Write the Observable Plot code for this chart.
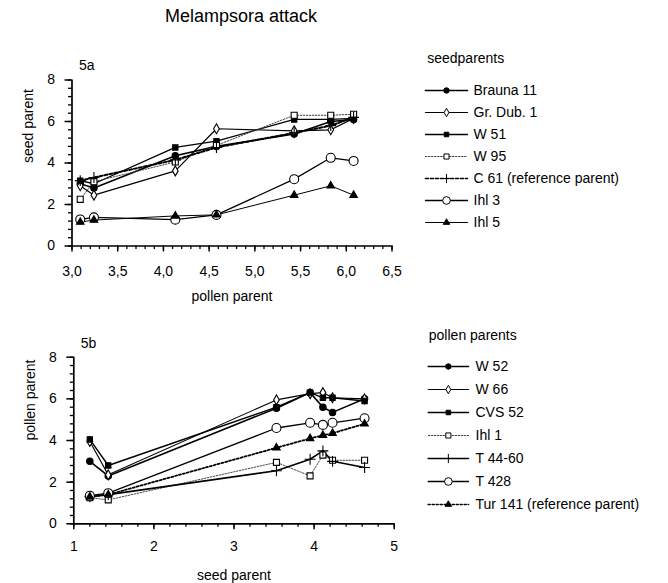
<!DOCTYPE html>
<html><head><meta charset="utf-8">
<script src="https://cdn.jsdelivr.net/npm/d3@7"></script>
<script src="https://cdn.jsdelivr.net/npm/@observablehq/plot@0.6"></script>
<style>
body{margin:0;background:#fff;font-family:"Liberation Sans",Arial,sans-serif;}
#wrap{position:relative;width:668px;height:583px;overflow:hidden;}
#title{position:absolute;left:0;width:482px;top:6px;line-height:20px;text-align:center;font-size:18px;color:#000;}
.abs{position:absolute;}
</style></head><body>
<div id="wrap"><div id="title">Melampsora attack</div></div>
<script>
// ---------- 5a: seed parents vs pollen parent score ----------
const pollenParentX = [3.09, 3.24, 4.13, 4.58, 5.43, 5.83, 6.08];
const seedParentNames = ["Brauna 11", "Gr. Dub. 1", "W 51", "W 95", "C 61 (reference parent)", "Ihl 3", "Ihl 5"];
const brauna11 = [3.0, 2.8, 4.35, 4.8, 5.4, 6.0, 6.1];
const grDub1   = [2.9, 2.45, 3.62, 5.65, 5.55, 5.6, 6.15];
const w51      = [3.15, 3.0, 4.75, 5.05, 6.1, 6.1, 6.15];
const w95      = [2.25, 3.1, 4.05, 4.85, 6.3, 6.3, 6.35];
const c61      = [3.15, 3.3, 4.15, 4.75, 5.45, 5.8, 6.2];
const ihl3     = [1.28, 1.38, 1.27, 1.5, 3.22, 4.25, 4.1];
const ihl5     = [1.15, 1.25, 1.45, 1.5, 2.45, 2.9, 2.45];
const seedParentSeries = [brauna11, grDub1, w51, w95, c61, ihl3, ihl5];

// ---------- 5b: pollen parents vs seed parent score ----------
const seedParentX = [1.2, 1.43, 3.53, 3.95, 4.11, 4.23, 4.63];
const pollenParentNames = ["W 52", "W 66", "CVS 52", "Ihl 1", "T 44-60", "T 428", "Tur 141 (reference parent)"];
const w52    = [3.0, 2.3, 5.55, 6.3, 5.6, 5.35, 6.0];
const w66    = [3.95, 2.35, 5.95, 6.25, 6.3, 6.05, 6.0];
const cvs52  = [4.05, 2.8, 5.6, 6.3, 6.05, 6.05, 5.9];
const ihl1   = [1.25, 1.15, 2.95, 2.3, 3.3, 3.05, 3.05];
const t4460  = [1.3, 1.4, 2.55, 3.1, 3.5, 3.0, 2.7];
const t428   = [1.35, 1.47, 4.6, 4.85, 4.75, 4.85, 5.07];
const tur141 = [1.3, 1.4, 3.65, 4.1, 4.25, 4.35, 4.8];
const pollenParentSeries = [w52, w66, cvs52, ihl1, t4460, t428, tur141];

// tick values
const yMajorTicks = [0, 2, 4, 6, 8];
const yMinorTicks = d3.range(0, 8.01, 0.4);
const topXMajor = [3, 3.5, 4, 4.5, 5, 5.5, 6, 6.5];
const topXMinor = d3.range(3, 6.51, 0.1).map(v => +v.toFixed(2));
const botXMajor = [1, 2, 3, 4, 5];
const botXMinor = d3.range(1, 5.01, 0.2).map(v => +v.toFixed(2));

const topStyles = [
  {symbol: "circle", fill: "black", r: 3.2, sw: 1.6},
  {symbol: "diamond", fill: "white", r: 3.0, sw: 1.2},
  {symbol: "square", fill: "black", r: 3.0, sw: 1.3},
  {symbol: "square", fill: "white", r: 3.4, sw: 1, dash: "1.5,1.5", stroke: "#444"},
  {symbol: "plus", fill: "none", r: 3.6, sw: 2, dash: "3,2"},
  {symbol: "circle", fill: "white", r: 4.5, sw: 1.3},
  {symbol: "triangle", fill: "black", r: 2.8, sw: 1}
];
const botStyles = [
  {symbol: "circle", fill: "black", r: 3.2, sw: 1.6},
  {symbol: "diamond", fill: "white", r: 3.0, sw: 1.1},
  {symbol: "square", fill: "black", r: 3.0, sw: 1.4},
  {symbol: "square", fill: "white", r: 3.4, sw: 1, dash: "1.5,1.5", stroke: "#444"},
  {symbol: "plus", fill: "none", r: 3.6, sw: 1.6},
  {symbol: "circle", fill: "white", r: 4.5, sw: 1.3},
  {symbol: "triangle", fill: "black", r: 2.8, sw: 1.8, dash: "2,2"}
];

const FONT = "'Liberation Sans', Arial, sans-serif";

function panel(o) {
  const rows = o.series.flatMap((vals, i) => vals.map((v, j) => ({x: o.xs[j], y: v, s: i})));
  const marks = [
    Plot.axisY(yMinorTicks, {tickSize: 3.5, tickFormat: () => "", label: null, strokeWidth: 1.3}),
    Plot.axisY(yMajorTicks, {tickSize: 7, tickPadding: 10, fontSize: 14, label: null, strokeWidth: 1.5}),
    Plot.axisX(o.xMinor, {tickSize: 3.5, tickFormat: () => "", label: null, strokeWidth: 1.3}),
    Plot.axisX(o.xMajor, {tickSize: 6, tickPadding: o.xPad, fontSize: 14, label: null, tickFormat: o.fmt, strokeWidth: 1.5}),
    Plot.ruleX([o.xDomain[0]], {y1: 0, y2: 8, strokeWidth: 1.7}),
    Plot.ruleY([0], {x1: o.xDomain[0], x2: o.xDomain[1], strokeWidth: 1.7})
  ];
  o.styles.forEach((st, i) => {
    marks.push(Plot.line(rows.filter(r => r.s === i), {
      x: "x", y: "y", stroke: st.stroke || "black", strokeWidth: st.sw,
      strokeDasharray: st.dash || null
    }));
  });
  o.styles.forEach((st, i) => {
    marks.push(Plot.dot(rows.filter(r => r.s === i), {
      x: "x", y: "y", symbol: st.symbol, r: st.r, fill: st.fill, stroke: "black", strokeWidth: 1.1
    }));
  });
  marks.push(Plot.text([o.xLabel], {text: d => d, frameAnchor: "bottom", dy: o.xLabelDy, lineAnchor: "middle", fontSize: 14}));
  marks.push(Plot.text([o.yLabel], {text: d => d, frameAnchor: "left", rotate: -90, dx: -43, lineAnchor: "middle", fontSize: 14}));
  marks.push(Plot.text([o.tag], {text: d => d, frameAnchor: "top-left", dx: 7, dy: o.tagDy, textAnchor: "start", lineAnchor: "middle", fontSize: 14}));
  return Plot.plot({
    width: o.width, height: o.height,
    marginLeft: o.ml, marginRight: o.mr, marginTop: o.mt, marginBottom: o.mb,
    x: {domain: o.xDomain, label: null},
    y: {domain: [0, 8], label: null},
    style: {fontFamily: FONT, fontSize: "14px", background: "transparent", color: "black", overflow: "visible"},
    marks
  });
}

function legend(o) {
  const lineRows = o.names.flatMap((n, i) => [{x: 0, n, i}, {x: 1, n, i}]);
  const dotRows = o.names.map((n, i) => ({x: 0.5, n, i}));
  const marks = [
    Plot.text([o.title], {text: d => d, frameAnchor: "top-left", dx: o.titleX, dy: o.titleY, textAnchor: "start", lineAnchor: "middle", fontSize: 14})
  ];
  o.styles.forEach((st, i) => {
    marks.push(Plot.line(lineRows.filter(r => r.i === i), {
      x: "x", y: "n", stroke: st.stroke || "black", strokeWidth: Math.min(st.sw, 1.6),
      strokeDasharray: st.dash || null
    }));
    marks.push(Plot.dot(dotRows.filter(r => r.i === i), {
      x: "x", y: "n", symbol: st.symbol, r: st.r * 0.85, fill: st.fill, stroke: "black", strokeWidth: 1
    }));
  });
  marks.push(Plot.text(dotRows, {x: () => 1, y: "n", text: "n", dx: o.labelDx, textAnchor: "start", fontSize: 14}));
  return Plot.plot({
    width: o.width, height: o.height,
    marginLeft: 0, marginRight: 0, marginTop: 0, marginBottom: 0,
    x: {domain: [0, 1], range: o.xRange, axis: null},
    y: {type: "point", domain: o.names, range: o.yRange, padding: 0, axis: null},
    style: {fontFamily: FONT, fontSize: "14px", background: "transparent", color: "black", overflow: "visible"},
    marks
  });
}

const comma = d => d.toFixed(1).replace(".", ",");

const wrap = document.getElementById("wrap");
function place(node, left, top) {
  const div = document.createElement("div");
  div.className = "abs";
  div.style.left = left + "px";
  div.style.top = top + "px";
  div.appendChild(node);
  wrap.appendChild(div);
}

place(panel({
  xs: pollenParentX, series: seedParentSeries, styles: topStyles,
  xDomain: [3, 6.5], xMajor: topXMajor, xMinor: topXMinor, fmt: comma, xPad: 14,
  xLabel: "pollen parent", yLabel: "seed parent", tag: "5a",
  width: 410, height: 280, ml: 71.5, mr: 18.5, mt: 39.5, mb: 74.5,
  xLabelDy: 50.5, tagDy: -14.5
}), 0, 40);

place(panel({
  xs: seedParentX, series: pollenParentSeries, styles: botStyles,
  xDomain: [1, 5], xMajor: botXMajor, xMinor: botXMinor, fmt: d => String(d), xPad: 11,
  xLabel: "seed parent", yLabel: "pollen parent", tag: "5b",
  width: 410, height: 263, ml: 73.3, mr: 16.3, mt: 36.7, mb: 59.7,
  xLabelDy: 51.7, tagDy: -13.7
}), 0, 320);

place(legend({
  title: "seedparents", names: seedParentNames, styles: topStyles,
  width: 263, height: 190, titleX: 21.7, titleY: 13.3,
  xRange: [20, 62], yRange: [43.3, 178.3], labelDx: 6
}), 405, 45);

place(legend({
  title: "pollen parents", names: pollenParentNames, styles: botStyles,
  width: 263, height: 200, titleX: 23.3, titleY: 13,
  xRange: [22.7, 63], yRange: [42.3, 183], labelDx: 7
}), 405, 322);
</script>
</body></html>
